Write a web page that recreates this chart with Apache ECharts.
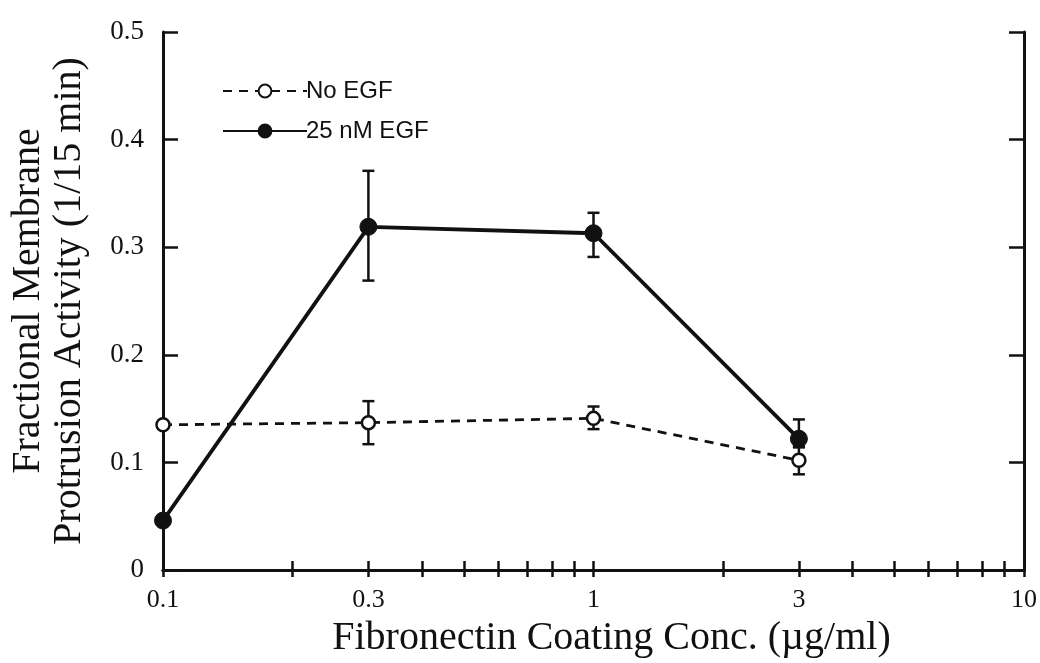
<!DOCTYPE html>
<html>
<head>
<meta charset="utf-8">
<script src="https://cdn.jsdelivr.net/npm/echarts@6/dist/echarts.min.js"></script>
<style>
  html, body { margin: 0; padding: 0; background: #fff; overflow: hidden; }
  #chart { width: 1040px; height: 663px; }
</style>
</head>
<body>
<div id="chart"></div>
<script>
// fibronectin concentrations (ug/ml)
const conc = [0.1, 0.3, 1, 3];

// No EGF: mean and error bar limits
const noEgf = [0.135, 0.137, 0.141, 0.102];
const noEgfLow = [0.135, 0.117, 0.131, 0.089];
const noEgfHigh = [0.135, 0.157, 0.152, 0.115];

// 25 nM EGF
const egf = [0.046, 0.319, 0.313, 0.122];
const egfLow = [0.046, 0.269, 0.291, 0.114];
const egfHigh = [0.046, 0.371, 0.332, 0.140];

// axis ticks
const xLabelValues = [0.1, 0.3, 1, 3, 10];
const xTickValues = [0.1, 0.2, 0.3, 0.4, 0.5, 0.6, 0.7, 0.8, 0.9, 1, 2, 3, 4, 5, 6, 7, 8, 9, 10];

const serif = '"Liberation Serif", "Times New Roman", serif';
const sans = '"Liberation Sans", Arial, sans-serif';

const chart = echarts.init(document.getElementById('chart'));

// error bars drawn via the axes' coordinate mapping
function errorBars(low, high) {
  return conc.map((c, i) => [c, low[i], high[i]]);
}
function renderErrorBar(params, api) {
  const x = api.value(0);
  const lo = api.coord([x, api.value(1)]);
  const hi = api.coord([x, api.value(2)]);
  const w = 6;
  const style = { stroke: '#111', lineWidth: 2.5 };
  return {
    type: 'group',
    children: [
      { type: 'line', shape: { x1: lo[0], y1: lo[1], x2: hi[0], y2: hi[1] }, style: style },
      { type: 'line', shape: { x1: lo[0] - w, y1: lo[1], x2: lo[0] + w, y2: lo[1] }, style: style },
      { type: 'line', shape: { x1: hi[0] - w, y1: hi[1], x2: hi[0] + w, y2: hi[1] }, style: style }
    ]
  };
}

const axisLine = { show: true, lineStyle: { color: '#111', width: 3 } };

const option = {
  animation: false,
  backgroundColor: '#fff',
  grid: { left: 163, right: 14, top: 32, height: 539 },
  legend: {
    orient: 'vertical',
    left: 217,
    top: 74,
    itemWidth: 84,
    itemHeight: 16,
    itemGap: 16,
    textStyle: { fontFamily: sans, fontSize: 24, lineHeight: 20, color: '#111', padding: [0, 0, 0, -6] },
    data: ['No EGF', '25 nM EGF']
  },
  xAxis: [
    {
      type: 'log',
      logBase: 10,
      min: 0.1,
      max: 10,
      position: 'bottom',
      name: 'Fibronectin Coating Conc. (\u00b5g/ml)',
      nameLocation: 'middle',
      nameGap: 44,
      nameTextStyle: { fontFamily: serif, fontSize: 40, color: '#111', padding: [0, 0, 0, 36] },
      axisLine: axisLine,
      axisTick: { inside: true, length: 9, customValues: xTickValues, lineStyle: { color: '#111', width: 2.5 } },
      axisLabel: { customValues: xLabelValues, fontFamily: serif, fontSize: 26, color: '#111', margin: 17 },
      splitLine: { show: false },
      minorTick: { show: false }
    },
    {
      type: 'log',
      logBase: 10,
      min: 0.1,
      max: 10,
      position: 'top',
      axisLine: axisLine,
      axisTick: { inside: true, length: 7, customValues: xTickValues, lineStyle: { color: '#111', width: 2.5 } },
      axisLabel: { show: false },
      splitLine: { show: false }
    }
  ],
  yAxis: [
    {
      type: 'value',
      min: 0,
      max: 0.5,
      interval: 0.1,
      position: 'left',
      name: 'Fractional Membrane\nProtrusion Activity (1/15 min)',
      nameLocation: 'middle',
      nameGap: 73,
      nameRotate: 90,
      nameTextStyle: { fontFamily: serif, fontSize: 40, color: '#111', lineHeight: 41 },
      axisLine: axisLine,
      axisTick: { inside: true, length: 15, lineStyle: { color: '#111', width: 2.5 } },
      axisLabel: { fontFamily: serif, fontSize: 27, color: '#111', margin: 19 },
      splitLine: { show: false }
    },
    {
      type: 'value',
      min: 0,
      max: 0.5,
      interval: 0.1,
      position: 'right',
      axisLine: axisLine,
      axisTick: { inside: true, length: 15, lineStyle: { color: '#111', width: 2.5 } },
      axisLabel: { show: false },
      splitLine: { show: false }
    }
  ],
  series: [
    {
      name: 'No EGF',
      type: 'line',
      data: conc.map((c, i) => [c, noEgf[i]]),
      symbol: 'circle',
      symbolSize: 13,
      itemStyle: { color: '#fff', borderColor: '#111', borderWidth: 2.5 },
      lineStyle: { color: '#111', width: 2.8, type: [9, 7] },
      z: 3
    },
    {
      name: '25 nM EGF',
      type: 'line',
      data: conc.map((c, i) => [c, egf[i]]),
      symbol: 'circle',
      symbolSize: 17,
      itemStyle: { color: '#111', borderColor: '#111', borderWidth: 1 },
      lineStyle: { color: '#111', width: 3.8 },
      z: 4
    },
    {
      type: 'custom',
      renderItem: renderErrorBar,
      data: errorBars(noEgfLow, noEgfHigh),
      encode: { x: 0, y: [1, 2] },
      z: 2
    },
    {
      type: 'custom',
      renderItem: renderErrorBar,
      data: errorBars(egfLow, egfHigh),
      encode: { x: 0, y: [1, 2] },
      z: 2
    }
  ]
};

chart.setOption(option);
</script>
</body>
</html>
